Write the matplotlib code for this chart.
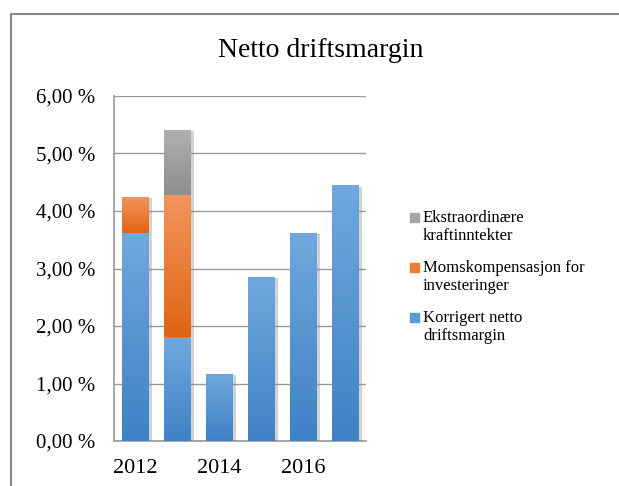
import matplotlib.pyplot as plt
import matplotlib.patheffects as pe
from matplotlib.lines import Line2D
from matplotlib.patches import Rectangle
from matplotlib.colors import LinearSegmentedColormap
import numpy as np

years = [2012, 2013, 2014, 2015, 2016, 2017]
korrigert = [3.62, 1.80, 1.17, 2.86, 3.62, 4.45]
momskomp = [0.63, 2.47, 0, 0, 0, 0]
ekstra = [0, 1.14, 0, 0, 0, 0]

labels = ["Ekstraordinære\nkraftinntekter",
          "Momskompensasjon for\ninvesteringer",
          "Korrigert netto\ndriftsmargin"]

# lys topp, mørk bunn
farger = {
    "blaa": ("#6FA8DD", "#3F82C5", "#5B9BD5"),
    "oransje": ("#F2955E", "#DF6413", "#ED7D31"),
    "graa": ("#B0B0B0", "#8E8E8E", "#A5A5A5"),
}

plt.rcParams['font.family'] = ['Liberation Serif', 'DejaVu Serif']

fig = plt.figure(figsize=(6.19, 4.86), dpi=100)
ax = fig.add_axes([114 / 619, 45 / 486, 252 / 619, 345 / 486])

x = np.arange(len(years))
w = 0.64
skygge = [pe.SimplePatchShadow(offset=(2.5, -1), shadow_rgbFace='#808080', alpha=0.35), pe.Normal()]

b1 = ax.bar(x, korrigert, w, color=farger["blaa"][2], zorder=3)
b2 = ax.bar(x, momskomp, w, bottom=korrigert, color=farger["oransje"][2], zorder=3)
bunn = [a + b for a, b in zip(korrigert, momskomp)]
b3 = ax.bar(x, ekstra, w, bottom=bunn, color=farger["graa"][2], zorder=3)


def gradient(bars, navn):
    lys, mork, _ = farger[navn]
    cmap = LinearSegmentedColormap.from_list(navn, [mork, lys])
    for bar in bars:
        h = bar.get_height()
        if h <= 0:
            continue
        bar.set_path_effects(skygge)
        x0, y0 = bar.get_x(), bar.get_y()
        im = ax.imshow(np.linspace(0, 1, 64).reshape(-1, 1), cmap=cmap, origin='lower',
                       extent=[x0, x0 + bar.get_width(), y0, y0 + h],
                       aspect='auto', zorder=4)
        im.set_clip_path(bar)


gradient(b1, "blaa")
gradient(b2, "oransje")
gradient(b3, "graa")

ax.set_xlim(-0.5, len(years) - 0.5)
ax.set_ylim(0, 6)
ax.set_yticks(np.arange(0, 7, 1))
ax.set_yticklabels([f"{v:.2f} %".replace(".", ",") for v in np.arange(0, 7, 1)], fontsize=15)
ax.set_xticks(x[::2])
ax.set_xticklabels([str(y) for y in years[::2]], fontsize=16)
ax.tick_params(length=0)
ax.tick_params(axis='y', pad=13.5)
ax.tick_params(axis='x', pad=13)
ax.grid(axis='y', color='#9a9a9a', lw=1.0, zorder=0)
for s in ['top', 'right']:
    ax.spines[s].set_visible(False)
for s in ['left', 'bottom']:
    ax.spines[s].set_color('#9a9a9a')
    ax.spines[s].set_linewidth(1.2)

fig.text(321 / 619, 1 - 57 / 486, "Netto driftsmargin", ha='center', va='baseline', fontsize=20)

# legende
leg_y = [218, 268, 318]
leg_c = [farger["graa"][2], farger["oransje"][2], farger["blaa"][2]]
for yy, c, t in zip(leg_y, leg_c, labels):
    fig.patches.append(Rectangle((410 / 619, 1 - (yy + 4) / 486), 9 / 619, 9 / 486,
                                 transform=fig.transFigure, color=c))
    fig.text(423 / 619, 1 - (yy - 8) / 486, t, ha='left', va='top', fontsize=12,
             linespacing=1.15)

# ramme
fig.add_artist(Line2D([11 / 619, 11 / 619, 1], [0, 1 - 14 / 486, 1 - 14 / 486],
                      transform=fig.transFigure, color='#8a8a8a', lw=1.5))

fig.savefig("out.png", dpi=100)
